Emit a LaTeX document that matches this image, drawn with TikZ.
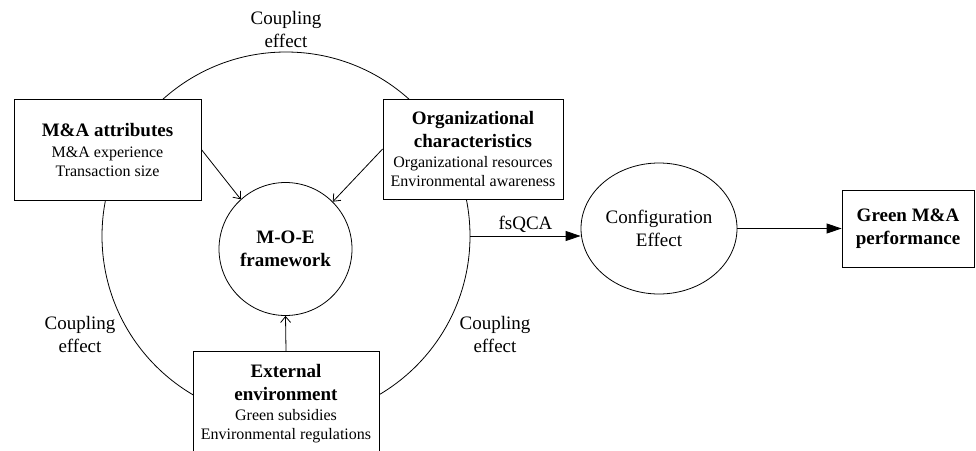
\documentclass[tikz,border=0pt]{standalone}
\usepackage{fontspec}
\setmainfont{Liberation Serif}
\usetikzlibrary{arrows.meta,shapes.geometric}
\newcommand{\ttl}[1]{{\fontsize{19}{23}\selectfont\bfseries #1}}
\begin{document}
\begin{tikzpicture}[x=1pt, y=-1pt, line width=0.8pt,
		box/.style={rectangle,draw,fill=white,align=center,inner sep=0pt,font=\fontsize{16}{19}\selectfont},
		label text/.style={align=center,inner sep=0pt,font=\fontsize{19}{23}\selectfont},
		thin arrow/.style={-{Straight Barb[length=6pt,width=10pt]}},
		thick arrow/.style={-{Triangle[length=15pt,width=10pt]}}
		]
	\clip (0,0) rectangle (976,450);
	\node [circle,draw,minimum size=368pt] (ring) at (286,236) {};
	\node [circle,draw,minimum size=133pt,label text,font=\fontsize{19}{23}\selectfont\bfseries] (moe) at (285.5,249) {M-O-E\\framework};
	\node [box,minimum width=187pt,minimum height=101pt] (ma) at (107.5,149.5)
		{\ttl{M\&A attributes}\\[2pt] M\&A experience\\ Transaction size};
	\node [box,minimum width=180pt,minimum height=100pt] (org) at (473,149)
		{\ttl{Organizational}\\[4pt] \ttl{characteristics}\\[1pt] Organizational resources\\ Environmental awareness};
	\node [box,minimum width=186pt,minimum height=104pt,anchor=north] (ext) at (286,351)
		{\ttl{External}\\[4pt] \ttl{environment}\\[1pt] Green subsidies\\ Environmental regulations};
	\node [ellipse,draw,minimum width=156pt,minimum height=131pt,label text] (conf) at (659,228.5) {Configuration\\Effect};
	\node [box,minimum width=132pt,minimum height=77pt,font=\fontsize{19}{23}\selectfont\bfseries] (perf) at (908,228.5) {Green M\&A\\performance};
	% coupling labels
	\node [label text] (c1) at (286,29) {Coupling\\effect};
	\node [label text] (c2) at (80,334) {Coupling\\effect};
	\node [label text] (c3) at (495,334) {Coupling\\effect};
	% arrows
	\draw [thin arrow] (ma.east) -- (moe.132);
	\draw [thin arrow] (org.west) -- (moe.45);
	\draw [thin arrow] (ext.north) -- (moe.south);
	\draw [thick arrow] (ring.east) -- (ring.east -| conf.west) node [midway,above=3pt,label text] (fs) {fsQCA};
	\draw [thick arrow] (conf.east) -- (perf.west);
\end{tikzpicture}
\end{document}
